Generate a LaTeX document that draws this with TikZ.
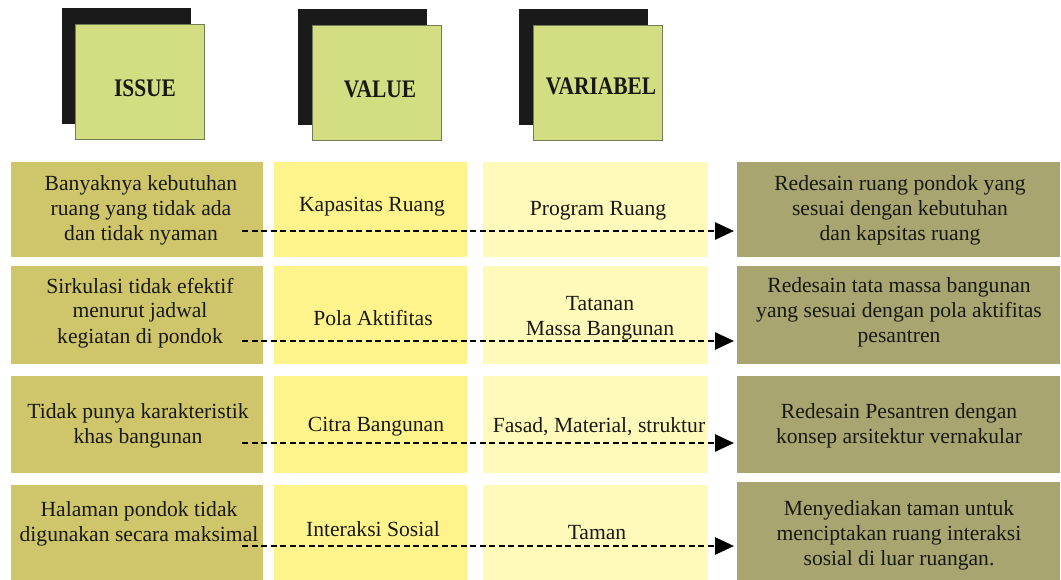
\documentclass[tikz,border=0pt]{standalone}
\usepackage{fontspec}
\setmainfont{Liberation Serif}
\usetikzlibrary{arrows.meta}
\definecolor{issuec}{RGB}{207,197,106}
\definecolor{valuec}{RGB}{255,244,140}
\definecolor{varc}{RGB}{255,250,185}
\definecolor{resc}{RGB}{168,165,113}
\definecolor{hdrc}{RGB}{211,222,130}
\definecolor{hdrborder}{RGB}{115,125,85}
\definecolor{blackc}{RGB}{26,26,26}
\definecolor{txtc}{RGB}{25,25,20}
\begin{document}
\begin{tikzpicture}[x=1pt,y=-1pt,
  box/.style={draw=none, inner sep=0pt, outer sep=0pt, anchor=north west},
  shadowbox/.style={box, fill=blackc, minimum width=129pt, minimum height=116pt},
  hdrbox/.style={box, fill=hdrc, draw=hdrborder, line width=0.8pt, minimum width=129pt, minimum height=115pt},
  hdrtxt/.style={anchor=base, inner sep=0pt, font=\fontsize{21.4}{25}\selectfont\bfseries, text=txtc},
  issuebox/.style={box, fill=issuec, minimum width=252pt},
  valuebox/.style={box, fill=valuec, minimum width=193pt},
  varbox/.style={box, fill=varc, minimum width=225pt},
  resbox/.style={box, fill=resc, minimum width=323pt},
  txt/.style={inner sep=0pt, align=center, font=\fontsize{21.6}{25}\selectfont, text=txtc},
  arr/.style={draw=black, line width=2.8pt, dash pattern=on 6pt off 3.5pt, -{Triangle[length=19pt,width=17pt]}, shorten >=3pt}
]
\useasboundingbox[fill=white] (0,0) rectangle (1061,580);

% headers
\node[shadowbox] (hb1) at (62,8) {};
\node[hdrbox] (hg1) at (75,24) {};
\node[hdrtxt] (ht1) at (145,97) {\scalebox{1}[1.18]{ISSUE}};
\node[shadowbox] (hb2) at (298,9) {};
\node[hdrbox] (hg2) at (312,25) {};
\node[hdrtxt] (ht2) at (380,98) {\scalebox{1}[1.18]{VALUE}};
\node[shadowbox] (hb3) at (519,9) {};
\node[hdrbox] (hg3) at (533,25) {};
\node[hdrtxt] (ht3) at (601,95) {\scalebox{1}[1.18]{VARIABEL}};

% row 1
\node[issuebox, minimum height=95pt] (i1) at (11,162) {};
\node[valuebox, minimum height=95pt] (v1) at (274,162) {};
\node[varbox, minimum height=95pt] (w1) at (483,162) {};
\node[resbox, minimum height=95pt] (r1) at (737,162) {};
\node[txt] (ti1) at (141,211) {\strut Banyaknya kebutuhan\\ruang yang tidak ada\\dan tidak nyaman\strut};
\node[txt] (tv1) at (372,207) {\strut Kapasitas Ruang};
\node[txt] (tw1) at (598,211) {\strut Program Ruang};
\node[txt] (tr1) at (900,211) {\strut Redesain ruang pondok yang\\sesuai dengan kebutuhan\\dan kapsitas ruang\strut};

% row 2
\node[issuebox, minimum height=98pt] (i2) at (11,266) {};
\node[valuebox, minimum height=98pt] (v2) at (274,266) {};
\node[varbox, minimum height=98pt] (w2) at (483,266) {};
\node[resbox, minimum height=98pt] (r2) at (737,266) {};
\node[txt] (ti2) at (140,313) {\strut Sirkulasi tidak efektif\\menurut jadwal\\kegiatan di pondok\strut};
\node[txt] (tv2) at (373,321) {\strut Pola Aktifitas};
\node[txt] (tw2) at (600,318) {\strut Tatanan\\Massa Bangunan\strut};
\node[txt] (tr2) at (899,312.5) {\strut Redesain tata massa bangunan\\yang sesuai dengan pola aktifitas\\pesantren\strut};

% row 3
\node[issuebox, minimum height=97pt] (i3) at (11,376) {};
\node[valuebox, minimum height=97pt] (v3) at (274,376) {};
\node[varbox, minimum height=97pt] (w3) at (483,376) {};
\node[resbox, minimum height=97pt] (r3) at (737,376) {};
\node[txt] (ti3) at (138,425.5) {\strut Tidak punya karakteristik\\khas bangunan\strut};
\node[txt] (tv3) at (376,426) {\strut Citra Bangunan};
\node[txt] (tw3) at (599,427) {\strut Fasad, Material, struktur};
\node[txt] (tr3) at (899,425.5) {\strut Redesain Pesantren dengan\\konsep arsitektur vernakular\strut};

% row 4
\node[issuebox, minimum height=95pt] (i4) at (11,485) {};
\node[valuebox, minimum height=95pt] (v4) at (274,485) {};
\node[varbox, minimum height=95pt] (w4) at (483,485) {};
\node[resbox, minimum height=98pt] (r4) at (737,482) {};
\node[txt] (ti4) at (139,524) {\strut Halaman pondok tidak\\digunakan secara maksimal\strut};
\node[txt] (tv4) at (373,531) {\strut Interaksi Sosial};
\node[txt] (tw4) at (597,534) {\strut Taman};
\node[txt] (tr4) at (899,535) {\strut Menyediakan taman untuk\\menciptakan ruang interaksi\\sosial di luar ruangan.\strut};

% arrows
\coordinate (s1) at (242,231);
\coordinate (s2) at (242,341);
\coordinate (s3) at (242,443);
\coordinate (s4) at (242,546);
\draw[arr] (s1) -- (s1 -| r1.west);
\draw[arr] (s2) -- (s2 -| r2.west);
\draw[arr] (s3) -- (s3 -| r3.west);
\draw[arr] (s4) -- (s4 -| r4.west);
\end{tikzpicture}
\end{document}
